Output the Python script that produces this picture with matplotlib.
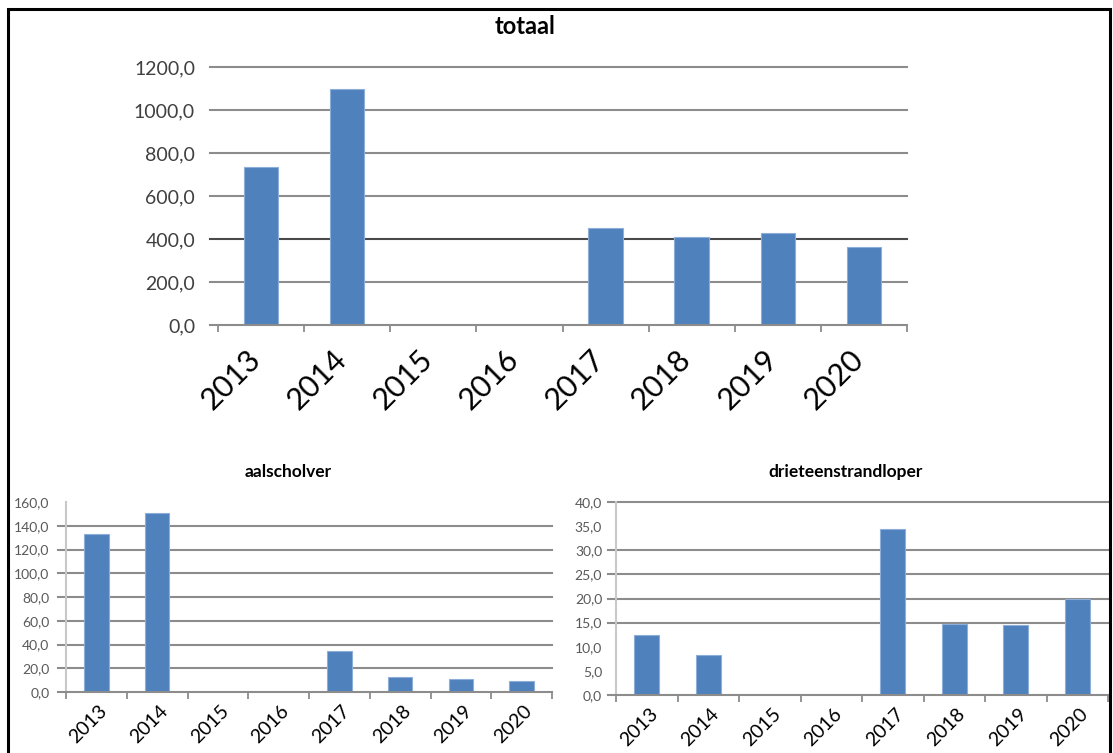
import numpy as np
import matplotlib
matplotlib.use("Agg")
import matplotlib.pyplot as plt
from matplotlib.patches import Rectangle
from matplotlib.transforms import ScaledTranslation

# ---- data -------------------------------------------------------------
years = ["2013", "2014", "2015", "2016", "2017", "2018", "2019", "2020"]
totaal = [735.0, 1097.0, np.nan, np.nan, 449.0, 409.0, 427.0, 364.0]
aalscholver = [132.7, 150.5, np.nan, np.nan, 34.8, 12.5, 10.6, 9.4]
drieteenstrandloper = [12.4, 8.2, np.nan, np.nan, 34.5, 14.8, 14.5, 19.8]

totaal_ticks = [0, 200, 400, 600, 800, 1000, 1200]
aalscholver_ticks = [0, 20, 40, 60, 80, 100, 120, 140, 160]
drieteen_ticks = [0, 5, 10, 15, 20, 25, 30, 35, 40]

# gridlines actually drawn in each panel
totaal_grid = [200, 400, 600, 800, 1000, 1200]
aalscholver_grid = [20, 40, 60, 80, 100, 120, 140]
drieteen_grid = [15, 20, 25, 30, 40]

# ---- styling ----------------------------------------------------------
W, H = 1113, 753
DPI = 100
BAR = "#4F81BD"
BAR_EDGE = "#8EAEDA"
GRID = "#8C8C8C"
FONT = ["Lato", "DejaVu Sans"]
plt.rcParams["font.family"] = FONT

fig = plt.figure(figsize=(W / DPI, H / DPI), dpi=DPI)
fig.patch.set_facecolor("white")


def px_rect(x0, y0, x1, y1):
    """Pixel box (top-left origin) -> figure fraction [l, b, w, h]."""
    return [x0 / W, 1 - y1 / H, (x1 - x0) / W, (y1 - y0) / H]


def fmt(v):
    return f"{v:.1f}".replace(".", ",")


def panel(box, values, ticks, grid, title, title_xy, title_size,
          ylab_size, ylab_color, ylab_pad, xlab_size, xlab_pad, xlab_dx,
          show_spine, dark_levels=()):
    ax = fig.add_axes(px_rect(*box))
    n = len(values)
    x = np.arange(n) + 0.5
    ax.bar(x, values, width=0.4, color=BAR, edgecolor=BAR_EDGE,
           linewidth=0.8, zorder=3)
    ax.set_xlim(0, n)
    ax.set_ylim(0, ticks[-1])

    width_px = box[2] - box[0]
    tick_out = 8 / width_px
    for g in grid:
        col = "#4A4A4A" if g in dark_levels else GRID
        ax.axhline(g, xmin=-tick_out, xmax=1, color=col, lw=1.5,
                   zorder=1, clip_on=False)
    # baseline (category axis)
    ax.axhline(0, xmin=-tick_out, xmax=1, color=GRID, lw=1.5,
               zorder=4, clip_on=False)

    for s in ["top", "right", "bottom"]:
        ax.spines[s].set_visible(False)
    if show_spine:
        ax.spines["left"].set_color("#C8C8C8")
        ax.spines["left"].set_linewidth(1.5)
        ax.spines["left"].set_zorder(2)
    else:
        ax.spines["left"].set_visible(False)

    ax.set_yticks(ticks)
    ax.set_yticklabels([fmt(t) for t in ticks], fontsize=ylab_size,
                       color=ylab_color)
    ax.tick_params(axis="y", length=0, pad=ylab_pad)

    ax.set_xticks(x)
    ax.set_xticklabels(years, fontsize=xlab_size, color="black",
                       rotation=45, ha="right", va="top",
                       rotation_mode="anchor")
    ax.tick_params(axis="x", which="major", length=0, pad=xlab_pad)
    ax.set_xticks(np.arange(n + 1), minor=True)
    ax.tick_params(axis="x", which="minor", length=7 * 72 / DPI,
                   width=1.3, color=GRID, direction="out")
    shift = ScaledTranslation(xlab_dx / DPI, 0, fig.dpi_scale_trans)
    for lab in ax.get_xticklabels():
        lab.set_transform(lab.get_transform() + shift)

    fig.text(title_xy[0] / W, 1 - title_xy[1] / H, title,
             fontsize=title_size, fontweight="bold", ha="center",
             va="center", color="black")
    return ax


# top panel: totals
panel((218, 67, 907, 325), totaal, totaal_ticks, totaal_grid, "totaal",
      (525, 27), 17, 14, "#404040", 16.5, 22, 14, -15, False,
      dark_levels=(400,))

# bottom left: aalscholver
panel((66, 502, 552, 692), aalscholver, aalscholver_ticks, aalscholver_grid,
      "aalscholver", (288, 472), 12.5, 10, "#595959", 12, 14, 7, 2, True)

# bottom right: drieteenstrandloper
panel((616, 502, 1108, 695), drieteenstrandloper, drieteen_ticks,
      drieteen_grid, "drieteenstrandloper", (846, 472), 12.5, 10,
      "#595959", 10, 14, 7, 2, True)

# black frame around the whole sheet
fig.add_artist(Rectangle((8 / W, -0.05), (1110 - 8) / W, 1.05 - 9 / H,
                         transform=fig.transFigure, fill=False,
                         edgecolor="black", linewidth=2.2, zorder=10))

fig.savefig("out.png", dpi=DPI)
